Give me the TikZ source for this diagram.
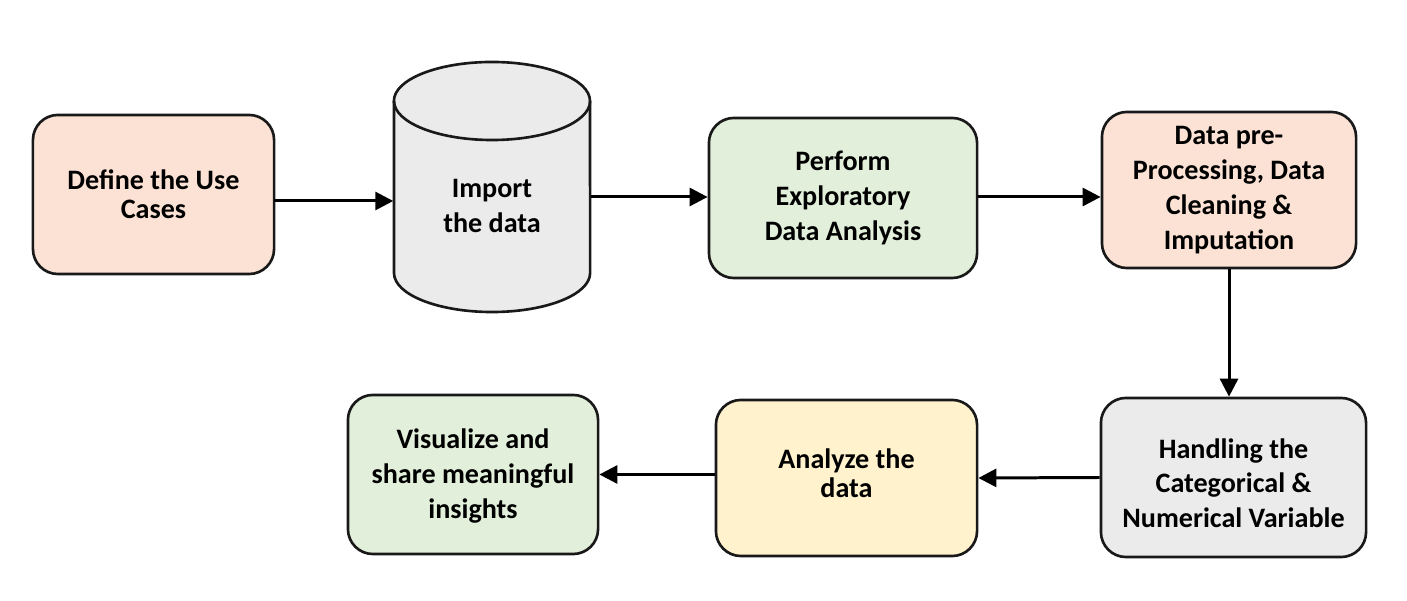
\documentclass[tikz,border=0pt]{standalone}
\usepackage{fontspec}
\setmainfont{Carlito}
\usetikzlibrary{arrows.meta}

\definecolor{peach}{HTML}{FBE2D5}
\definecolor{lgray}{HTML}{EBEBEB}
\definecolor{lgreen}{HTML}{E2EFDA}
\definecolor{lyellow}{HTML}{FFF2CC}

\begin{document}
\begin{tikzpicture}
      [x = 0.01cm, y = -0.01cm,
      box/.style= {
         draw = black!90,
         line width = 0.75pt,
         rounded corners = 0.25cm,
         align = center,
         inner sep = 0pt,
         font = \fontsize{8}{9.9}\selectfont\bfseries
      },
      tight/.style= {
         font = \fontsize{8}{8.3}\selectfont\bfseries
      },
      arr/.style={-{Triangle[length=5.1pt, width=5.1pt]}, line width = 0.85pt}]

      \useasboundingbox (0, 0) rectangle (1407, 601);

      \node[box, tight, fill = peach, minimum width = 2.41cm, minimum height = 1.59cm]
         (use) at (153.5, 194.5) {Define the Use\\Cases};
      \node[inner sep = 0pt, minimum width = 1.96cm, minimum height = 2.5cm]
         (imp) at (492, 187) {};
      \node[box, fill = lgreen, minimum width = 2.68cm, minimum height = 1.6cm]
         (eda) at (843, 198) {Perform\\Exploratory\\Data Analysis};
      \node[box, fill = peach, minimum width = 2.54cm, minimum height = 1.56cm]
         (pre) at (1229, 190) {Data pre-\\Processing, Data\\Cleaning \&\\Imputation};
      \node[box, fill = lgray, minimum width = 2.65cm, minimum height = 1.59cm]
         (hand) at (1233.5, 477.5) {\rule{0pt}{0.31cm}Handling the\\Categorical \&\\Numerical Variable};
      \node[box, tight, fill = lyellow, minimum width = 2.61cm, minimum height = 1.56cm]
         (ana) at (846.5, 478) {Analyze the\\data\rule[-0.1cm]{0pt}{0.1cm}};
      \node[box, fill = lgreen, minimum width = 2.5cm, minimum height = 1.59cm]
         (vis) at (473, 474.5) {\rule{0pt}{0.23cm}Visualize and\\share meaningful\\insights};

      % cylinder for the data source
      \draw[line width = 0.75pt, draw = black!90, fill = lgray]
         (394, 101) -- (394, 273) arc (180:360:0.98cm and 0.39cm)
         -- (590, 101) arc (0:180:0.98cm and 0.39cm) -- cycle;
      \draw[line width = 0.75pt, draw = black!90]
         (394, 101) arc (180:360:0.98cm and 0.39cm);
      \node[box, draw = none, text depth = 0pt] (imptext) at (492, 206) {Import\\the data};

      \draw[arr] (274, 201) -- (imp.west |- 0, 201);
      \draw[arr] (imp.east |- 0, 197) -- (eda.west |- 0, 197);
      \draw[arr] (eda.east |- 0, 197) -- (pre.west |- 0, 197);
      \draw[arr] (pre.south) -- (pre.south |- hand.north);
      \draw[arr] (hand.west) -- (ana.east);
      \draw[arr] (ana.west |- vis.east) -- (vis.east);

   \end{tikzpicture}
\end{document}
